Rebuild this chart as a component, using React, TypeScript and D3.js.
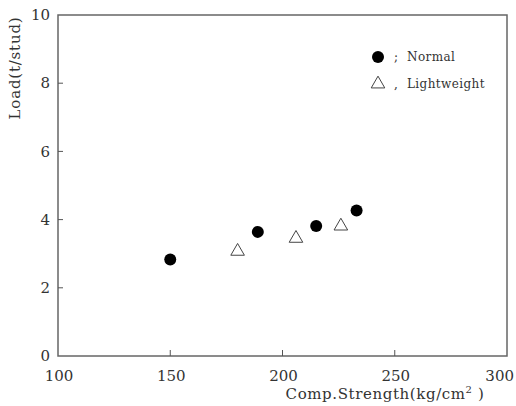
import React, { useRef, useEffect } from 'react';
import * as d3 from 'd3';

// Normal concrete studs
const normalStrength = [150, 189, 215, 233];
const normalLoad = [2.83, 3.64, 3.81, 4.27];

// Lightweight concrete studs
const lightStrength = [180, 206, 226];
const lightLoad = [3.07, 3.45, 3.81];

const xTicks = [100, 150, 200, 250, 300];
const yTicks = [0, 2, 4, 6, 8, 10];

const WIDTH = 516;
const HEIGHT = 406;
const FONT = "'DejaVu Serif', 'Liberation Serif', serif";

const App = () => {
  const svgRef = useRef<SVGSVGElement | null>(null);

  useEffect(() => {
    const svg = d3.select(svgRef.current);
    svg.selectAll('*').remove();

    const margin = { top: 15, right: 9, bottom: 50, left: 58 };
    const x = d3.scaleLinear().domain([100, 300]).range([margin.left, WIDTH - margin.right]);
    const y = d3.scaleLinear().domain([0, 10]).range([HEIGHT - margin.bottom, margin.top]);

    svg.append('rect')
      .attr('width', WIDTH).attr('height', HEIGHT).attr('fill', 'white');

    // frame
    svg.append('rect')
      .attr('x', x(100)).attr('y', y(10))
      .attr('width', x(300) - x(100)).attr('height', y(0) - y(10))
      .attr('fill', 'none')
      .attr('stroke', '#666')
      .attr('stroke-width', 1.5);

    // inner ticks
    svg.selectAll('line.ytick')
      .data(yTicks.slice(1, -1))
      .join('line')
      .attr('class', 'ytick')
      .attr('x1', x(100)).attr('x2', x(100) + 5)
      .attr('y1', d => y(d)).attr('y2', d => y(d))
      .attr('stroke', '#555').attr('stroke-width', 1);

    svg.selectAll('line.xtick')
      .data(xTicks.slice(1, -1))
      .join('line')
      .attr('class', 'xtick')
      .attr('x1', d => x(d)).attr('x2', d => x(d))
      .attr('y1', y(0)).attr('y2', y(0) - 6)
      .attr('stroke', '#555').attr('stroke-width', 1);

    // tick labels
    svg.selectAll('text.ylab')
      .data(yTicks)
      .join('text')
      .attr('class', 'ylab')
      .attr('x', x(100) - 8)
      .attr('y', d => y(d))
      .attr('dy', '0.35em')
      .attr('text-anchor', 'end')
      .style('font-family', FONT)
      .style('font-size', '15px')
      .attr('fill', '#333')
      .text(d => d);

    svg.selectAll('text.xlab')
      .data(xTicks)
      .join('text')
      .attr('class', 'xlab')
      .attr('x', (d, i) => (i === xTicks.length - 1 ? WIDTH - 2 : x(d) + 1))
      .attr('y', y(0) + 25)
      .attr('text-anchor', (d, i) => (i === xTicks.length - 1 ? 'end' : 'middle'))
      .style('font-family', FONT)
      .style('font-size', '15px')
      .attr('fill', '#333')
      .text(d => d);

    // axis titles
    const xt = svg.append('text')
      .attr('x', 385)
      .attr('y', 399)
      .attr('text-anchor', 'middle')
      .style('font-family', FONT)
      .style('font-size', '15px')
      .style('letter-spacing', '0.6px')
      .attr('fill', '#333');
    xt.append('tspan').text('Comp.Strength(kg/cm');
    xt.append('tspan').attr('dy', -6).style('font-size', '10px').text('2');
    xt.append('tspan').attr('dy', 6).text(' )');

    svg.append('text')
      .attr('transform', `translate(20, 68) rotate(-90)`)
      .attr('text-anchor', 'middle')
      .style('font-family', FONT)
      .style('font-size', '15px')
      .style('letter-spacing', '0.8px')
      .attr('fill', '#333')
      .text('Load(t/stud)');

    // points
    const tri = d3.symbol().type(d3.symbolTriangle).size(80);

    svg.selectAll('circle.normal')
      .data(normalStrength)
      .join('circle')
      .attr('class', 'normal')
      .attr('cx', d => x(d))
      .attr('cy', (d, i) => y(normalLoad[i]))
      .attr('r', 6)
      .attr('fill', '#000');

    svg.selectAll('path.light')
      .data(lightStrength)
      .join('path')
      .attr('class', 'light')
      .attr('d', tri)
      .attr('transform', (d, i) => `translate(${x(d)},${y(lightLoad[i])})`)
      .attr('fill', 'none')
      .attr('stroke', '#444')
      .attr('stroke-width', 1);

    // legend
    const lg = svg.append('g').attr('transform', 'translate(378, 57)');
    const legendText = (yy: number, sep: string, label: string) => {
      lg.append('text')
        .attr('x', 16).attr('y', yy).attr('dy', '0.35em')
        .style('font-family', FONT).style('font-size', '12px')
        .attr('fill', '#333')
        .text(sep);
      lg.append('text')
        .attr('x', 29).attr('y', yy).attr('dy', '0.35em')
        .style('font-family', FONT).style('font-size', '12px')
        .style('letter-spacing', '0.4px')
        .attr('fill', '#333')
        .text(label);
    };
    lg.append('circle').attr('r', 6).attr('fill', '#000');
    legendText(0, ';', 'Normal');
    lg.append('path')
      .attr('d', tri)
      .attr('transform', 'translate(0, 27)')
      .attr('fill', 'none').attr('stroke', '#444');
    legendText(27, ',', 'Lightweight');
  }, []);

  return (
    <svg
      ref={svgRef}
      width={WIDTH}
      height={HEIGHT}
      style={{ position: 'absolute', left: 0, top: 0 }}
    />
  );
};

export default App;
